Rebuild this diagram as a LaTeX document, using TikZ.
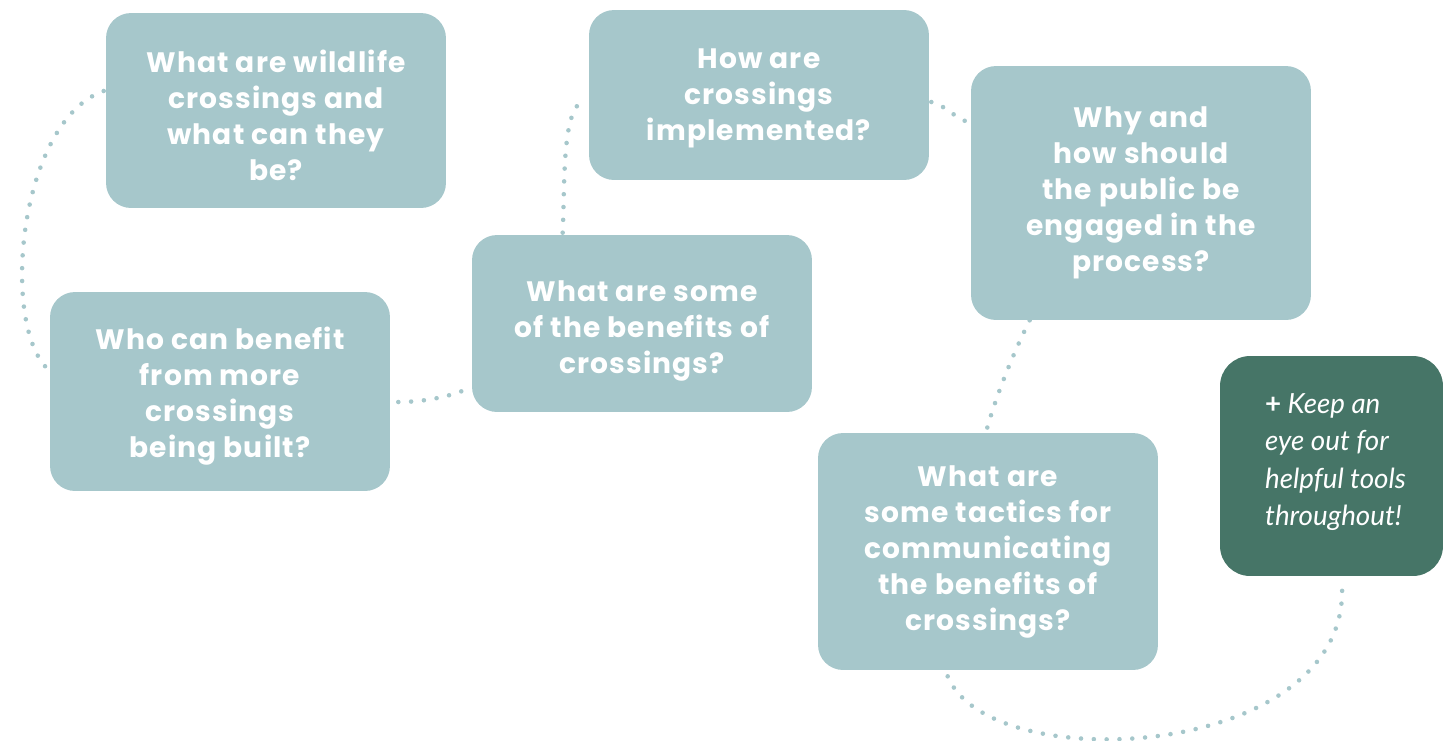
\documentclass[tikz,border=0pt]{standalone}
\usepackage{fontspec}
\setmainfont[LetterSpace=4]{Poppins}
\newfontfamily\latofont{Lato}
\usetikzlibrary{calc}
\definecolor{boxteal}{HTML}{A6C7CB}
\definecolor{boxgreen}{HTML}{467567}
\tikzset{
  qbox/.style={fill=boxteal, rounded corners=0.5cm, inner sep=0pt,
    minimum width=6.8cm},
  qtext/.style={text=white, align=center, inner sep=0pt,
    font=\fontsize{16}{20.5}\selectfont\bfseries},
  tipbox/.style={fill=boxgreen, rounded corners=0.6cm, inner sep=0pt,
    minimum width=4.46cm, minimum height=4.4cm},
  tiptext/.style={text=white, align=left, inner sep=0pt,
    font=\latofont\itshape\fontsize{15.8}{21.2}\selectfont}
  ,dotline/.style={draw=boxteal, line width=2.6pt, line cap=round,
    dash pattern=on 0pt off 7.3pt}
}
\begin{document}
\begin{tikzpicture}[x=0.02cm, y=-0.02cm]
\useasboundingbox (0,0) rectangle (1455,741);

% question boxes
\node[qbox, minimum height=3.9cm, label={[qtext, yshift=-0.1cm]center:What are wildlife\\crossings and\\what can they\\be?}] (wildlife) at (276,110.5) {};
\node[qbox, minimum height=3.4cm, label={[qtext, yshift=-0.06cm]center:How are\\crossings\\implemented?}] (implement) at (759,95) {};
\node[qbox, minimum height=5.08cm, label={[qtext]center:Why and\\how should\\the public be\\engaged in the\\process?}] (public) at (1141,193) {};
\node[qbox, minimum height=3.54cm, label={[qtext, yshift=-0.14cm]center:What are some\\of the benefits of\\crossings?}] (benefits) at (642,323.5) {};
\node[qbox, minimum height=3.98cm, label={[qtext, yshift=-0.1cm]center:Who can benefit\\from more\\crossings\\being built?}] (who) at (220,391.5) {};
\node[qbox, minimum height=4.74cm, label={[qtext]center:What are\\some tactics for\\communicating\\the benefits of\\crossings?}] (tactics) at (988,551.5) {};
\node[tipbox, label={[tiptext, xshift=0.08cm, yshift=0.08cm]center:{\upshape\bfseries +} Keep an\\eye out for\\helpful tools\\throughout!}] (tools) at (1331.5,466) {};

% dotted trail
\draw[dotline] ($(wildlife.west)+(-2,-19.5)$) .. controls (20,120) and (0,320) .. ($(who.west)+(-3,-23.5)$);
\draw[dotline] ($(who.east)+(8,10.5)$) .. controls (420,402) and (445,398) .. ($(benefits.west)+(-7,66.5)$);
\draw[dotline] ($(benefits.north west)+(91,-2)$) .. controls (565,180) and (562,115) .. ($(implement.west)+(-7,6)$);
\draw[dotline] ($(implement.east)+(2,7)$) .. controls (945,105) and (955,118) .. ($(public.west)+(-3,-71)$);
\draw[dotline] ($(public.south west)+(59,0)$) .. controls (1010,360) and (995,400) .. ($(tactics.north west)+(169,-3)$);
\draw[dotline] ($(tactics.south west)+(130,6)$) .. controls (990,780) and (1350,760) .. ($(tools.south)+(10.5,9)$);
\end{tikzpicture}
\end{document}
